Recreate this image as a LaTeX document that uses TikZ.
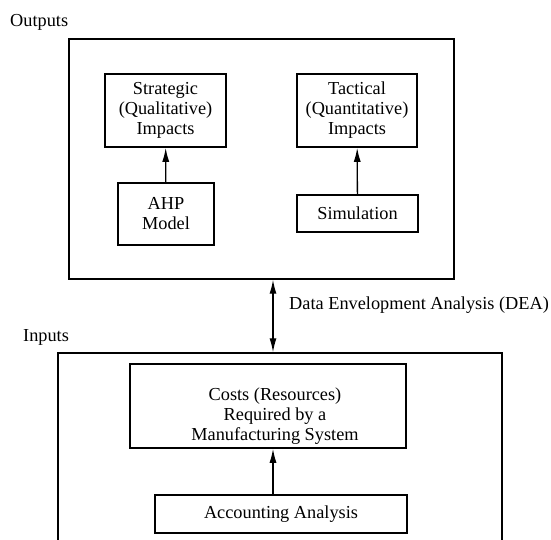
\documentclass[tikz,border=0pt]{standalone}
\usepackage{fontspec}
\setmainfont{Liberation Serif}
\usetikzlibrary{arrows.meta,positioning}

\begin{document}
\begin{tikzpicture}[x=1pt, y=-1pt,
    every node/.style={font=\fontsize{18.3}{20}\selectfont},
    box/.style={rectangle, draw, line width=1.6pt, inner sep=0pt, align=center},
    frame/.style={box, line width=1.4pt},
    tag/.style={anchor=base west, inner sep=0pt},
    link/.style={line width=1.3pt},
    >={Latex[length=14pt, width=7pt]}]
  \useasboundingbox (0,0) rectangle (551,539);

  % upper part: outputs
  \node[tag] (outtag) at (10,26.7) {Outputs};
  \node[frame, minimum width=385pt, minimum height=240pt] (outbox) at (261.5,159) {};

  \node[box, minimum width=121pt, minimum height=73pt] (strat) at (165.5,110.5) {Strategic\\(Qualitative)\\Impacts};
  \node[box, minimum width=96pt, minimum height=62pt] (ahp) at (166,214) {AHP\\Model};
  \node[box, minimum width=120pt, minimum height=73pt] (tact) at (357,110.5) {Tactical\\(Quantitative)\\Impacts};
  \node[box, minimum width=121pt, minimum height=37pt] (sim) at (357.5,213.5) {Simulation};

  \draw[->, link] (ahp) -- (strat);
  \draw[->, link] (sim) -- (tact);

  % lower part: inputs (frame runs off the bottom edge)
  \node[tag] (intag) at (23,341) {Inputs};
  \node[frame, minimum width=444pt, minimum height=200pt] (inbox) at (280,453) {};

  \node[box, minimum width=276pt, minimum height=84pt] (costs) at (268,406) {};
  \node[align=center, inner sep=0pt] (coststext) at (275,416) {Costs (Resources)\\Required by a\\Manufacturing System};
  \node[box, minimum width=252pt, minimum height=38pt] (acct) at (281,514) {Accounting Analysis};

  % DEA link between the two parts
  \coordinate (axis) at (273,0);
  \draw[<->, link] (outbox.south -| axis) -- (inbox.north -| axis);
  \node[tag] (dea) at (289,309) {Data Envelopment Analysis (DEA)};

  \draw[->, link] (acct.north -| axis) -- (costs.south -| axis);
\end{tikzpicture}
\end{document}
